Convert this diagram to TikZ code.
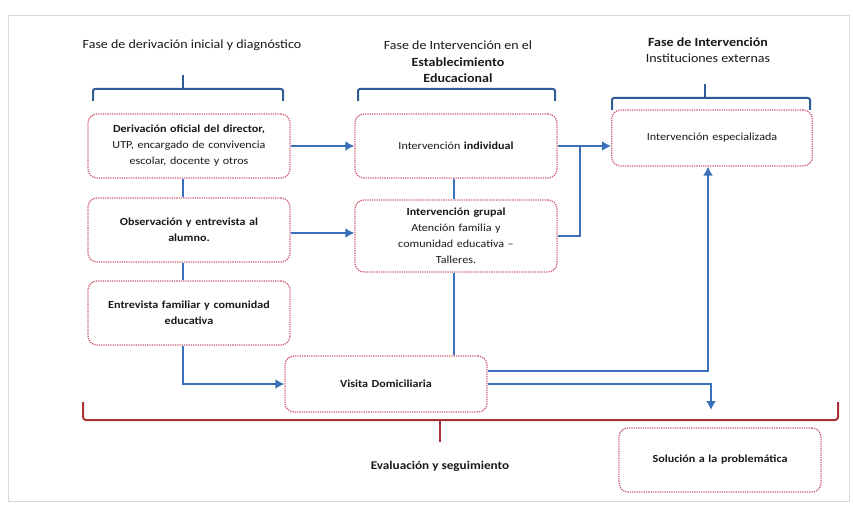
\documentclass[tikz,border=0pt]{standalone}
\usepackage{fontspec}
\setmainfont[FakeStretch=1.12]{Carlito}
\usetikzlibrary{arrows,arrows.meta,positioning}

\definecolor{linkblue}{RGB}{58,112,186}
\definecolor{boxred}{RGB}{200,70,90}
\definecolor{evalred}{RGB}{170,50,55}

\begin{document}
\begin{tikzpicture}[x=1pt,y=-1pt,>={Latex[length=9pt,width=10pt]}]
            \tikzstyle{stage}=[rectangle,rounded corners=9pt,draw=boxred!85,densely dotted,line width=1.3pt,
                               minimum width=202pt,minimum height=64pt,text width=194pt,align=center,
                               font=\fontsize{10.8}{16}\selectfont,text=black!90]
            \tikzstyle{head}=[align=center,font=\fontsize{12.5}{16.5}\selectfont,text=black!90]
            \tikzstyle{link}=[draw=linkblue,line width=2.8pt]
            \tikzstyle{brace}=[draw=linkblue!80!black,line width=2pt,rounded corners=2pt]

            \useasboundingbox (0,0) rectangle (853,505);
            \draw[black!15,line width=1pt] (8,16) rectangle (849,501);

            % column headers
            \node[head] (h1) at (192,45) {Fase de derivación inicial y diagnóstico};
            \node[head] (h2) at (458,62) {Fase de Intervención en el\\\textbf{Establecimiento}\\\textbf{Educacional}};
            \node[head] (h3) at (708,50) {\textbf{Fase de Intervención}\\Instituciones externas};

            \draw[brace] (93,101) -- (93,89) -- (283,89) -- (283,101);
            \draw[brace] (183,89) -- (183,75);
            \draw[brace] (358,101) -- (358,89) -- (555,89) -- (555,101);
            \draw[brace] (612,110) -- (612,98) -- (810,98) -- (810,110);
            \draw[brace] (705,98) -- (705,84);

            % stages
            \node[stage] (d1) at (189,146) {\textbf{Derivación oficial del director,}\\UTP, encargado de convivencia\\escolar, docente y otros};
            \node[stage] (d2) at (189,230) {\textbf{Observación y entrevista al}\\\textbf{alumno.}};
            \node[stage] (d3) at (189,313) {\textbf{Entrevista familiar y comunidad}\\\textbf{educativa}};
            \node[stage] (i1) at (456,146) {Intervención \textbf{individual}};
            \node[stage,minimum height=72pt] (i2) at (456,236) {\textbf{Intervención grupal}\\Atención familia y\\comunidad educativa –\\Talleres.};
            \node[stage,minimum height=56pt,minimum width=199pt] (e1) at (712,138) {Intervención especializada};
            \node[stage,minimum height=56pt] (v) at (386,384) {\textbf{Visita Domiciliaria}};
            \node[stage] (s) at (720,460) {\textbf{Solución a la problemática}};

            \coordinate (j1) at (580,146);
            \coordinate (j2) at (711,410);

            \path[link] ([xshift=-6pt]d1.south) -- ([xshift=-6pt]d2.north);
            \path[link] ([xshift=-6pt]d2.south) -- ([xshift=-6pt]d3.north);
            \path[link] ([xshift=-2pt]i1.south) -- ([xshift=-2pt]i2.north);
            \draw[link,->] ([xshift=-6pt]d3.south) |- (v.west);
            \draw[link,->] (d1.east) -- (i1.west);
            \draw[link,->] ([yshift=-3pt]d2.east) -- ([yshift=-3pt]d2.east -| i2.west);
            \draw[link,->] (i1.east) -- (i1.east -| e1.west);
            \draw[link] (i2.east) -| (j1);
            \draw[link] ([xshift=-2pt]i2.south) -- ([xshift=-2pt]v.north -| i2.south);
            \draw[link,->] ([yshift=13pt]v.east) -| ([xshift=-4pt]e1.south);
            \draw[link,->] (v.east) -| (j2);

            % evaluation brace
            \draw[draw=evalred,line width=2pt,rounded corners=3pt] (83,402) -- (83,420) -- (838,420) -- (838,402);
            \draw[draw=evalred,line width=2.6pt] (440,420) -- (440,442);
            \node[head,font=\fontsize{11.8}{13}\selectfont\bfseries] (ev) at (440,466) {Evaluación y seguimiento};
\end{tikzpicture}
\end{document}
